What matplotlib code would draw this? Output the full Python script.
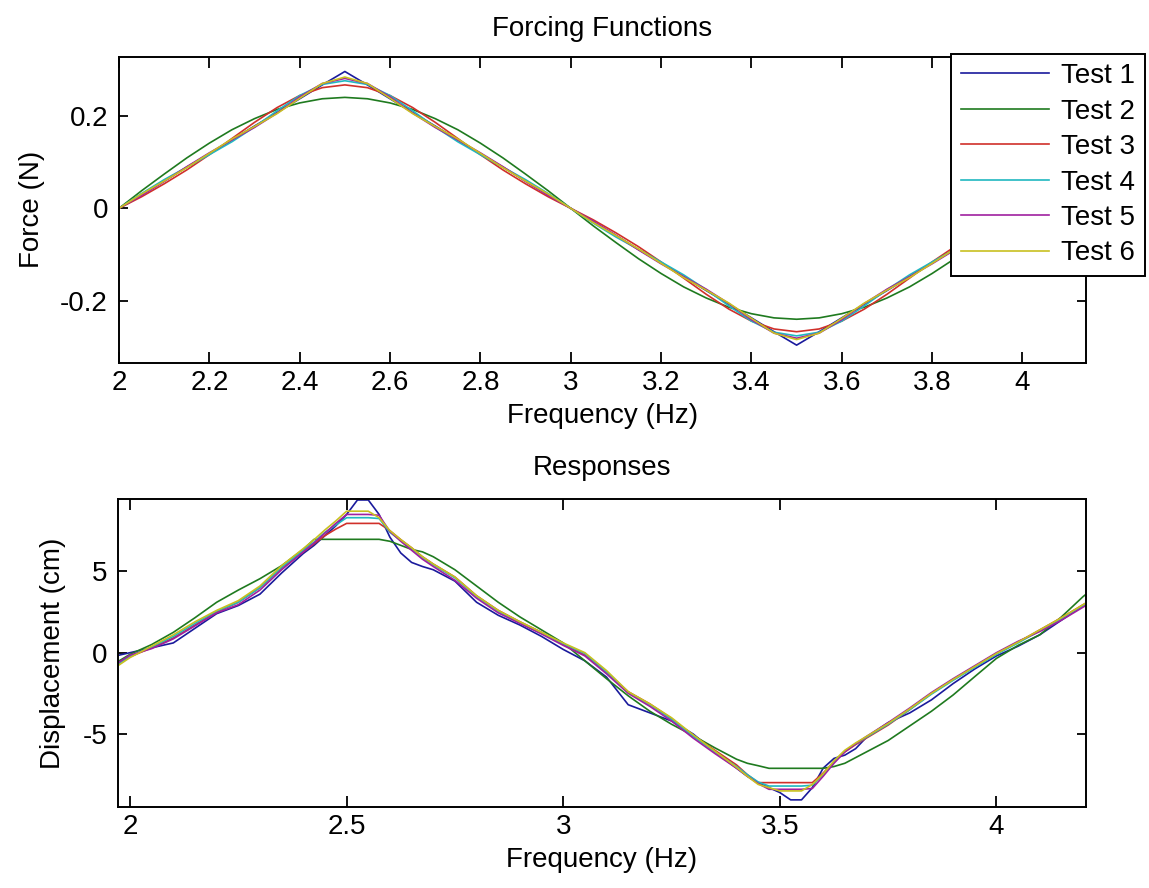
import numpy as np
import matplotlib
matplotlib.use('Agg')
import matplotlib.pyplot as plt
from matplotlib.ticker import FormatStrFormatter

plt.rcParams['font.family'] = ['Liberation Sans', 'DejaVu Sans']
plt.rcParams['font.size'] = 20
plt.rcParams['axes.unicode_minus'] = False

# Series
labels = ['Test 1', 'Test 2', 'Test 3', 'Test 4', 'Test 5', 'Test 6']
colors = ['#1a1a9c', '#1f7a1f', '#d0302a', '#20b8c0', '#a020a0', '#c8c020']

# Forcing functions (N) vs frequency (Hz)
freq_force = [2.00, 2.05, 2.10, 2.15, 2.20, 2.25, 2.30, 2.35, 2.40, 2.45, 2.50,
              2.55, 2.60, 2.65, 2.70, 2.75, 2.80, 2.85, 2.90, 2.95, 3.00,
              3.05, 3.10, 3.15, 3.20, 3.25, 3.30, 3.35, 3.40, 3.45, 3.50,
              3.55, 3.60, 3.65, 3.70, 3.75, 3.80, 3.85, 3.90, 3.95, 4.00,
              4.05, 4.10, 4.15]

force_1 = [0, .030, .059, .089, .118, .148, .178, .207, .237, .267, .296,
           .267, .237, .207, .178, .148, .118, .089, .059, .030, 0,
           -.030, -.059, -.089, -.118, -.148, -.178, -.207, -.237, -.267, -.296,
           -.267, -.237, -.207, -.178, -.148, -.118, -.089, -.059, -.030, 0,
           .030, .059, .089]
force_2 = [0, .038, .074, .109, .141, .170, .194, .214, .228, .237, .240,
           .237, .228, .214, .194, .170, .141, .109, .074, .038, 0,
           -.038, -.074, -.109, -.141, -.170, -.194, -.214, -.228, -.237, -.240,
           -.237, -.228, -.214, -.194, -.170, -.141, -.109, -.074, -.038, 0,
           .038, .074, .109]
force_3 = [0, .025, .053, .083, .116, .151, .186, .218, .244, .261, .267,
           .261, .244, .218, .186, .151, .116, .083, .053, .025, 0,
           -.025, -.053, -.083, -.116, -.151, -.186, -.218, -.244, -.261, -.267,
           -.261, -.244, -.218, -.186, -.151, -.116, -.083, -.053, -.025, 0,
           .025, .053, .083]
force_4 = [0, .032, .062, .089, .116, .144, .176, .211, .244, .268, .276,
           .268, .244, .211, .176, .144, .116, .089, .062, .032, 0,
           -.032, -.062, -.089, -.116, -.144, -.176, -.211, -.244, -.268, -.276,
           -.268, -.244, -.211, -.176, -.144, -.116, -.089, -.062, -.032, 0,
           .032, .062, .089]
force_5 = [0, .028, .058, .090, .120, .148, .175, .206, .241, .270, .281,
           .270, .241, .206, .175, .148, .120, .090, .058, .028, 0,
           -.028, -.058, -.090, -.120, -.148, -.175, -.206, -.241, -.270, -.281,
           -.270, -.241, -.206, -.175, -.148, -.120, -.090, -.058, -.028, 0,
           .028, .058, .090]
force_6 = [0, .031, .059, .088, .119, .150, .177, .205, .238, .270, .284,
           .270, .238, .205, .177, .150, .119, .088, .059, .031, 0,
           -.031, -.059, -.088, -.119, -.150, -.177, -.205, -.238, -.270, -.284,
           -.270, -.238, -.205, -.177, -.150, -.119, -.088, -.059, -.031, 0,
           .031, .059, .088]

# Responses (cm) vs frequency (Hz)
freq_resp = [1.95, 2.00, 2.05, 2.10, 2.15, 2.20, 2.25, 2.30, 2.35, 2.40,
             2.425, 2.45, 2.475, 2.50, 2.525, 2.55, 2.575, 2.60, 2.625, 2.65, 2.675, 2.70,
             2.75, 2.80, 2.85, 2.90, 2.95, 3.00, 3.05, 3.10, 3.15, 3.20, 3.25, 3.30, 3.35, 3.40,
             3.425, 3.45, 3.475, 3.50, 3.525, 3.55, 3.575, 3.60, 3.625, 3.65, 3.675, 3.70,
             3.75, 3.80, 3.85, 3.90, 3.95, 4.00, 4.05, 4.10, 4.15, 4.20, 4.25]

resp_1 = [-0.3, 0.0, 0.3, 0.6, 1.5, 2.4, 2.9, 3.6, 4.9, 6.1,
          6.6, 7.2, 7.8, 8.5, 9.39, 9.39, 8.5, 7.1, 6.13, 5.55, 5.3, 5.1,
          4.4, 3.1, 2.3, 1.7, 1.0, 0.2, -0.5, -1.5, -3.2, -3.7, -4.2, -5.0, -6.1, -7.1,
          -7.6, -8.0, -8.3, -8.6, -9.05, -9.05, -8.3, -7.1, -6.5, -6.3, -5.9, -5.2,
          -4.3, -3.7, -2.9, -1.9, -1.0, -0.2, 0.4, 1.1, 2.0, 2.9, 3.6]
resp_2 = [-0.9, -0.1, 0.5, 1.25, 2.15, 3.1, 3.85, 4.55, 5.35, 6.35,
          6.97, 6.97, 6.97, 6.97, 6.97, 6.97, 6.97, 6.85, 6.6, 6.35, 6.2, 5.9,
          5.1, 4.1, 3.1, 2.2, 1.4, 0.6, -0.5, -1.6, -2.65, -3.6, -4.4, -5.1, -5.85, -6.55,
          -6.8, -6.95, -7.11, -7.11, -7.11, -7.11, -7.11, -7.11, -7.0, -6.8, -6.45, -6.1,
          -5.4, -4.5, -3.6, -2.6, -1.47, -0.35, 0.45, 1.1, 2.2, 3.45, 4.5]
resp_3 = [-1.0, -0.25, 0.3, 0.9, 1.7, 2.5, 3.1, 4.0, 5.2, 6.2,
          6.7, 7.2, 7.6, 7.95, 7.95, 7.95, 7.95, 7.5, 6.95, 6.45, 5.9, 5.45,
          4.65, 3.5, 2.6, 1.9, 1.25, 0.5, -0.15, -1.2, -2.4, -3.15, -4.05, -5.1, -6.0, -6.9,
          -7.5, -7.99, -7.99, -7.99, -7.99, -7.99, -7.99, -7.4, -6.7, -6.1, -5.65, -5.25,
          -4.45, -3.5, -2.5, -1.65, -0.85, -0.05, 0.65, 1.4, 2.15, 2.95, 3.7]
resp_4 = [-1.1, -0.2, 0.35, 1.0, 1.8, 2.55, 3.1, 4.0, 5.25, 6.3,
          6.8, 7.4, 7.85, 8.3, 8.3, 8.3, 8.25, 7.4, 6.9, 6.4, 5.85, 5.4,
          4.6, 3.45, 2.55, 1.85, 1.2, 0.55, -0.05, -1.2, -2.45, -3.2, -4.1, -5.15, -6.1, -7.0,
          -7.5, -7.95, -8.2, -8.2, -8.2, -8.2, -8.15, -7.5, -6.7, -6.05, -5.6, -5.2,
          -4.4, -3.5, -2.55, -1.7, -0.9, -0.1, 0.6, 1.35, 2.1, 2.9, 3.7]
resp_5 = [-1.0, -0.15, 0.25, 0.85, 1.65, 2.45, 2.95, 3.85, 5.1, 6.2,
          6.75, 7.35, 7.95, 8.5, 8.5, 8.5, 8.45, 7.45, 6.85, 6.3, 5.75, 5.3,
          4.45, 3.35, 2.45, 1.8, 1.15, 0.45, -0.2, -1.3, -2.5, -3.3, -4.2, -5.25, -6.2, -7.1,
          -7.6, -8.05, -8.4, -8.4, -8.4, -8.4, -8.35, -7.6, -6.8, -6.1, -5.6, -5.15,
          -4.3, -3.4, -2.45, -1.6, -0.8, 0.0, 0.7, 1.3, 2.0, 2.8, 3.6]
resp_6 = [-1.2, -0.3, 0.4, 1.1, 1.9, 2.6, 3.2, 4.1, 5.35, 6.4,
          6.95, 7.55, 8.1, 8.7, 8.7, 8.7, 8.3, 7.5, 6.95, 6.45, 5.9, 5.45,
          4.65, 3.5, 2.6, 1.9, 1.25, 0.6, 0.0, -1.1, -2.4, -3.15, -4.0, -5.05, -6.05, -7.05,
          -7.6, -8.1, -8.3, -8.5, -8.5, -8.5, -8.1, -7.45, -6.65, -6.0, -5.55, -5.15,
          -4.35, -3.45, -2.5, -1.65, -0.85, -0.05, 0.65, 1.4, 2.15, 2.95, 3.75]

force_series = [force_1, force_2, force_3, force_4, force_5, force_6]
resp_series = [resp_1, resp_2, resp_3, resp_4, resp_5, resp_6]

W, H = 1149, 888
fig = plt.figure(figsize=(W / 100, H / 100), dpi=100)
ax1 = fig.add_axes([119 / W, 1 - 362.7 / H, (1085.7 - 119) / W, (362.7 - 56.7) / H])
ax2 = fig.add_axes([118.3 / W, 1 - 806.7 / H, (1085.7 - 118.3) / W, (806.7 - 499) / H])


def style(ax):
    for s in ax.spines.values():
        s.set_linewidth(1.4)
    ax.tick_params(direction='in', top=True, right=True, width=1.3)
    ax.tick_params(axis='x', length=8, pad=5.5)
    ax.tick_params(axis='y', length=6.5, pad=8)
    ax.xaxis.set_major_formatter(FormatStrFormatter('%g'))
    ax.yaxis.set_major_formatter(FormatStrFormatter('%g'))


# Forcing functions
for lab, col, y in zip(labels, colors, force_series):
    ax1.plot(freq_force, y, color=col, lw=1.2, label=lab)
ax1.set_xlim(2.0, 4.14)
ax1.set_ylim(-0.334, 0.328)
ax1.set_xticks([2, 2.2, 2.4, 2.6, 2.8, 3, 3.2, 3.4, 3.6, 3.8, 4])
ax1.set_yticks([-0.2, 0, 0.2])
style(ax1)
ax1.set_title('Forcing Functions', pad=15, fontsize=20)
ax1.set_xlabel('Frequency (Hz)', labelpad=4.5)
ax1.set_ylabel('Force (N)', labelpad=10.8)

leg = ax1.legend(loc='upper left', bbox_to_anchor=(951.4 / W, 1 - 54 / H),
                 bbox_transform=fig.transFigure, borderaxespad=0, fancybox=False,
                 edgecolor='black', framealpha=1, handlelength=3.2,
                 handletextpad=0.43, borderpad=0.33, labelspacing=0.34)
leg.get_frame().set_linewidth(1.4)

# Responses
for lab, col, y in zip(labels, colors, resp_series):
    ax2.plot(freq_resp, y, color=col, lw=1.2)
ax2.set_xlim(1.973, 4.206)
ax2.set_ylim(-9.47, 9.45)
ax2.set_xticks([2, 2.5, 3, 3.5, 4])
ax2.set_yticks([-5, 0, 5])
style(ax2)
ax2.set_title('Responses', pad=17, fontsize=20)
ax2.set_xlabel('Frequency (Hz)', labelpad=4.5)
ax2.set_ylabel('Displacement (cm)', labelpad=11.5)

fig.savefig('out.png', dpi=100)
